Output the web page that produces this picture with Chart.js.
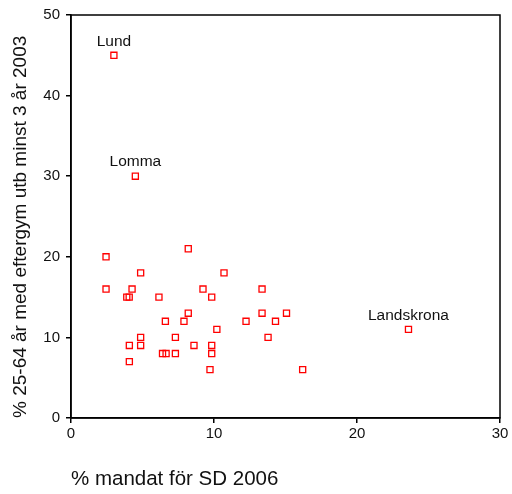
<!DOCTYPE html>
<html>
<head>
<meta charset="utf-8">
<script src="https://cdn.jsdelivr.net/npm/chart.js@4/dist/chart.umd.min.js"></script>
<style>
  html, body { margin: 0; padding: 0; background: #fff; }
  #wrap { width: 512px; height: 494px; }
</style>
</head>
<body>
<div id="wrap"><canvas id="scatter"></canvas></div>
<script>
// % mandat för SD 2006 (x) vs % 25-64 år med eftergymnasial utb (y)
const mandatSD = [3.0, 4.5, 23.6,
  2.45, 2.45, 4.87, 4.27, 3.9, 4.07, 6.15, 8.2, 9.23, 10.7, 9.84, 8.2, 6.6, 7.9,
  10.2, 7.3, 4.87, 4.08, 4.87, 8.6, 9.84, 6.4, 6.65, 7.3, 9.84, 4.08, 9.72,
  12.24, 13.36, 13.36, 15.07, 14.3, 13.78, 16.2];
const eftergymUtb = [45, 30, 11,
  20, 16, 18, 16, 15, 15, 15, 21, 16, 18, 15, 13, 12, 12,
  11, 10, 10, 9, 9, 9, 9, 8, 8, 8, 8, 7, 6,
  12, 16, 13, 13, 12, 10, 6];
const kommunNamn = ['Lund', 'Lomma', 'Landskrona'];

const xTicks = [0, 10, 20, 30];
const yTicks = [0, 10, 20, 30, 40, 50];

const points = mandatSD.map((x, i) => ({x: x, y: eftergymUtb[i]}));

// frame round the plot + names above the labelled points
const framePlugin = {
  id: 'frame',
  afterDraw(chart) {
    const ctx = chart.ctx;
    const a = chart.chartArea;
    ctx.save();
    ctx.strokeStyle = '#000';
    ctx.lineWidth = 1.5;
    ctx.strokeRect(a.left, a.top, a.right - a.left, a.bottom - a.top);

    const xs = chart.scales.x, ys = chart.scales.y;
    ctx.fillStyle = '#111';
    ctx.font = '15.5px "Liberation Sans", Arial, sans-serif';
    ctx.textAlign = 'center';
    ctx.textBaseline = 'middle';
    kommunNamn.forEach((name, i) => {
      const px = xs.getPixelForValue(mandatSD[i]);
      const py = ys.getPixelForValue(eftergymUtb[i]);
      ctx.fillText(name, px, py - 14);
    });
    ctx.restore();
  }
};

new Chart(document.getElementById('scatter'), {
  type: 'scatter',
  data: {
    datasets: [{
      data: points,
      pointStyle: 'rect',
      pointRadius: 4.3,
      pointHoverRadius: 4.3,
      borderColor: '#ff0000',
      backgroundColor: 'rgba(255,255,255,0)',
      borderWidth: 1.3,
    }]
  },
  options: {
    responsive: true,
    maintainAspectRatio: false,
    animation: false,
    events: [],
    layout: { padding: { top: 13, right: 12, left: 0, bottom: 0 } },
    plugins: { legend: { display: false }, tooltip: { enabled: false } },
    scales: {
      x: {
        type: 'linear',
        min: 0, max: 30,
        afterBuildTicks: (s) => { s.ticks = xTicks.map(v => ({value: v})); },
        afterFit: (s) => { s.height = 76; },
        grid: { display: true, drawOnChartArea: false, drawTicks: true, tickLength: 5, color: '#000', lineWidth: 1.5 },
        border: { display: true, color: '#000', width: 1.5 },
        ticks: { color: '#111', padding: 2, maxRotation: 0, font: { family: '"Liberation Sans", Arial, sans-serif', size: 15 } },
        title: {
          display: true,
          text: '% mandat för SD 2006',
          align: 'start',
          color: '#111',
          padding: { top: 0, bottom: 2 },
          font: { family: '"Liberation Sans", Arial, sans-serif', size: 20.5 }
        }
      },
      y: {
        type: 'linear',
        min: 0, max: 50,
        afterBuildTicks: (s) => { s.ticks = yTicks.map(v => ({value: v})); },
        afterFit: (s) => { s.width = 71; },
        grid: { display: true, drawOnChartArea: false, drawTicks: true, tickLength: 5, color: '#000', lineWidth: 1.5 },
        border: { display: true, color: '#000', width: 1.5 },
        ticks: { color: '#111', padding: 6, font: { family: '"Liberation Sans", Arial, sans-serif', size: 15 } },
        title: {
          display: true,
          text: '% 25-64 år med eftergym utb minst 3 år 2003',
          align: 'start',
          color: '#111',
          padding: { top: 9, bottom: 0 },
          font: { family: '"Liberation Sans", Arial, sans-serif', size: 19 }
        }
      }
    }
  },
  plugins: [framePlugin]
});
</script>
</body>
</html>
